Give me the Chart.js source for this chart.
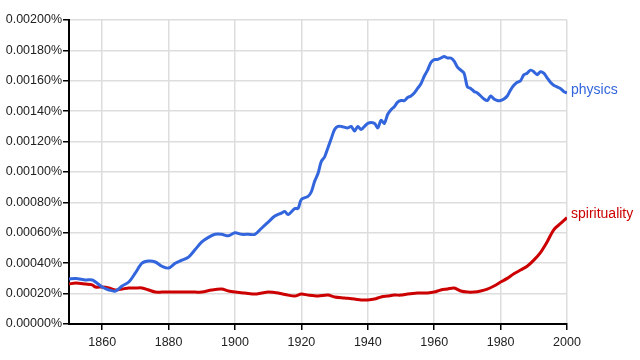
<!DOCTYPE html>
<html>
<head>
<meta charset="utf-8">
<script src="https://cdn.jsdelivr.net/npm/chart.js@4"></script>
<style>
  html, body { margin: 0; padding: 0; background: #fff; }
  #wrap { width: 640px; height: 360px; }
</style>
</head>
<body>
<div id="wrap"><canvas id="myChart"></canvas></div>
<script>
// values in percent
const physicsYears = [1850, 1852, 1855, 1857, 1858, 1860, 1862, 1864, 1866, 1868, 1870, 1872, 1874, 1876, 1878, 1880,
  1882, 1884, 1886, 1888, 1890, 1892, 1894, 1896, 1898, 1900, 1902, 1904, 1906, 1908, 1910, 1912, 1914, 1915, 1916,
  1918, 1919, 1920, 1922, 1923, 1924, 1925, 1926, 1927, 1928, 1929, 1930, 1931, 1932, 1934, 1935, 1936, 1937, 1938,
  1940, 1942, 1943, 1944, 1945, 1946, 1947, 1948, 1949, 1950, 1951, 1952, 1953, 1954, 1955, 1956, 1957, 1958, 1959,
  1960, 1961, 1962, 1963, 1964, 1965, 1966, 1967, 1968, 1969, 1970, 1971, 1972, 1973, 1974, 1975, 1976, 1977, 1978,
  1979, 1980, 1981, 1982, 1983, 1984, 1985, 1986, 1987, 1988, 1989, 1990, 1991, 1992, 1993, 1994, 1995, 1996, 1997,
  1998, 1999, 2000];
const physicsValues = [0.000296, 0.00030, 0.00029, 0.00029, 0.000276, 0.000243, 0.000224, 0.000217, 0.00025, 0.000276,
  0.000336, 0.00040, 0.000414, 0.000408, 0.00038, 0.000368, 0.00040, 0.00042, 0.00044, 0.00049, 0.00054, 0.00057,
  0.00059, 0.00059, 0.00058, 0.00060, 0.00059, 0.00059, 0.00059, 0.00063, 0.00067, 0.00071, 0.00073, 0.00074, 0.00072,
  0.00076, 0.00076, 0.00082, 0.00084, 0.00087, 0.00094, 0.00099, 0.00107, 0.00110, 0.00116, 0.00122, 0.00128, 0.00130,
  0.00130, 0.00129, 0.00130, 0.00127, 0.00130, 0.00128, 0.00132, 0.00132, 0.00129, 0.00134, 0.00132, 0.00138, 0.00141,
  0.00143, 0.00146, 0.00147, 0.00147, 0.00149, 0.00150, 0.00152, 0.00155, 0.00158, 0.00163, 0.00167, 0.00172, 0.00174,
  0.00174, 0.00175, 0.00176, 0.00175, 0.00175, 0.00173, 0.00169, 0.00167, 0.00165, 0.00156, 0.00155, 0.00153, 0.00152,
  0.00150, 0.00148, 0.00147, 0.00150, 0.00148, 0.00147, 0.00147, 0.00148, 0.00150, 0.00154, 0.00157, 0.00159, 0.00160,
  0.00164, 0.00165, 0.00167, 0.00166, 0.00164, 0.00166, 0.00165, 0.00162, 0.00159, 0.00157, 0.00156, 0.00155, 0.00153,
  0.00152];

const spiritYears = [1850, 1852, 1855, 1857, 1858, 1860, 1862, 1864, 1866, 1868, 1870, 1872, 1874, 1876, 1878, 1880,
  1882, 1885, 1888, 1890, 1893, 1896, 1898, 1900, 1903, 1906, 1908, 1910, 1913, 1916, 1918, 1920, 1922, 1925, 1928,
  1930, 1933, 1936, 1938, 1940, 1942, 1944, 1946, 1948, 1950, 1952, 1955, 1956, 1958, 1960, 1962, 1964, 1966, 1968,
  1970, 1972, 1974, 1976, 1978, 1980, 1982, 1984, 1986, 1988, 1990, 1992, 1994, 1996, 1998, 2000];
const spiritValues = [0.000263, 0.00027, 0.000263, 0.000257, 0.000243, 0.000243, 0.000237, 0.000224, 0.00023,
  0.000237, 0.000237, 0.000237, 0.000224, 0.00021, 0.00021, 0.00021, 0.00021, 0.00021, 0.00021, 0.00021, 0.000224,
  0.00023, 0.000217, 0.00021, 0.000204, 0.000197, 0.000204, 0.00021, 0.000204, 0.00019, 0.000184, 0.000197, 0.00019,
  0.000184, 0.00019, 0.000178, 0.000171, 0.000164, 0.000158, 0.000158, 0.000164, 0.000178, 0.000184, 0.00019, 0.00019,
  0.000197, 0.000204, 0.000204, 0.000204, 0.00021, 0.000224, 0.00023, 0.000237, 0.000217, 0.00021, 0.00021, 0.000217,
  0.00023, 0.00025, 0.000276, 0.00030, 0.00033, 0.000355, 0.00038, 0.00042, 0.00047, 0.00054, 0.00062, 0.00066, 0.00070];

const seriesNames = ["physics", "spirituality"];
const seriesColors = ["#3366dd", "#cc0000"];
const xTicks = [1860, 1880, 1900, 1920, 1940, 1960, 1980, 2000];
const yTicks = [0, 0.0002, 0.0004, 0.0006, 0.0008, 0.001, 0.0012, 0.0014, 0.0016, 0.0018, 0.002];

function toPoints(xs, ys) {
  return xs.map(function (x, i) { return { x: x, y: ys[i] }; });
}

// nom de la série au bout de la courbe
const endLabels = {
  id: "endLabels",
  afterDatasetsDraw(chart) {
    const ctx = chart.ctx;
    ctx.save();
    ctx.font = "14px 'Liberation Sans', Arial, sans-serif";
    ctx.textBaseline = "middle";
    ctx.textAlign = "left";
    chart.data.datasets.forEach(function (ds, i) {
      const pts = chart.getDatasetMeta(i).data;
      const last = pts[pts.length - 1];
      ctx.fillStyle = ds.borderColor;
      ctx.fillText(ds.label, last.x + 4, last.y - 3);
    });
    ctx.restore();
  }
};

const tickFont = { family: "'Liberation Sans', Arial, sans-serif", size: 12.5 };

let ctx = document.getElementById("myChart").getContext("2d");
let myChart = new Chart(ctx, {
  type: "line",
  data: {
    datasets: [
      {
        label: seriesNames[0],
        data: toPoints(physicsYears, physicsValues),
        borderColor: seriesColors[0],
        borderWidth: 3,
        pointRadius: 0,
        tension: 0.3,
        fill: false
      },
      {
        label: seriesNames[1],
        data: toPoints(spiritYears, spiritValues),
        borderColor: seriesColors[1],
        borderWidth: 3,
        pointRadius: 0,
        tension: 0.3,
        fill: false
      }
    ]
  },
  options: {
    responsive: true,
    maintainAspectRatio: false,
    animation: false,
    layout: { padding: { top: 20, right: 73, left: 0, bottom: 0 } },
    plugins: { legend: { display: false }, tooltip: { enabled: false } },
    scales: {
      x: {
        type: "linear",
        min: 1850,
        max: 2000,
        afterBuildTicks: function (axis) {
          axis.ticks = xTicks.map(function (v) { return { value: v }; });
        },
        afterFit: function (axis) { axis.height = 36; },
        grid: { color: "#dddddd", lineWidth: 1.5, tickColor: "#000", tickLength: 6 },
        border: { color: "#000", width: 2 },
        ticks: { color: "#222", font: tickFont, padding: 5, maxRotation: 0,
          callback: function (v) { return String(v); } }
      },
      y: {
        min: 0,
        max: 0.002,
        afterBuildTicks: function (axis) {
          axis.ticks = yTicks.map(function (v) { return { value: v }; });
        },
        afterFit: function (axis) { axis.width = 69; },
        grid: { color: "#dddddd", lineWidth: 1.5, tickColor: "#000", tickLength: 6 },
        border: { color: "#000", width: 2 },
        ticks: { color: "#222", font: tickFont, padding: 1,
          callback: function (v) { return v.toFixed(5) + "%"; } }
      }
    }
  },
  plugins: [endLabels]
});
</script>
</body>
</html>
